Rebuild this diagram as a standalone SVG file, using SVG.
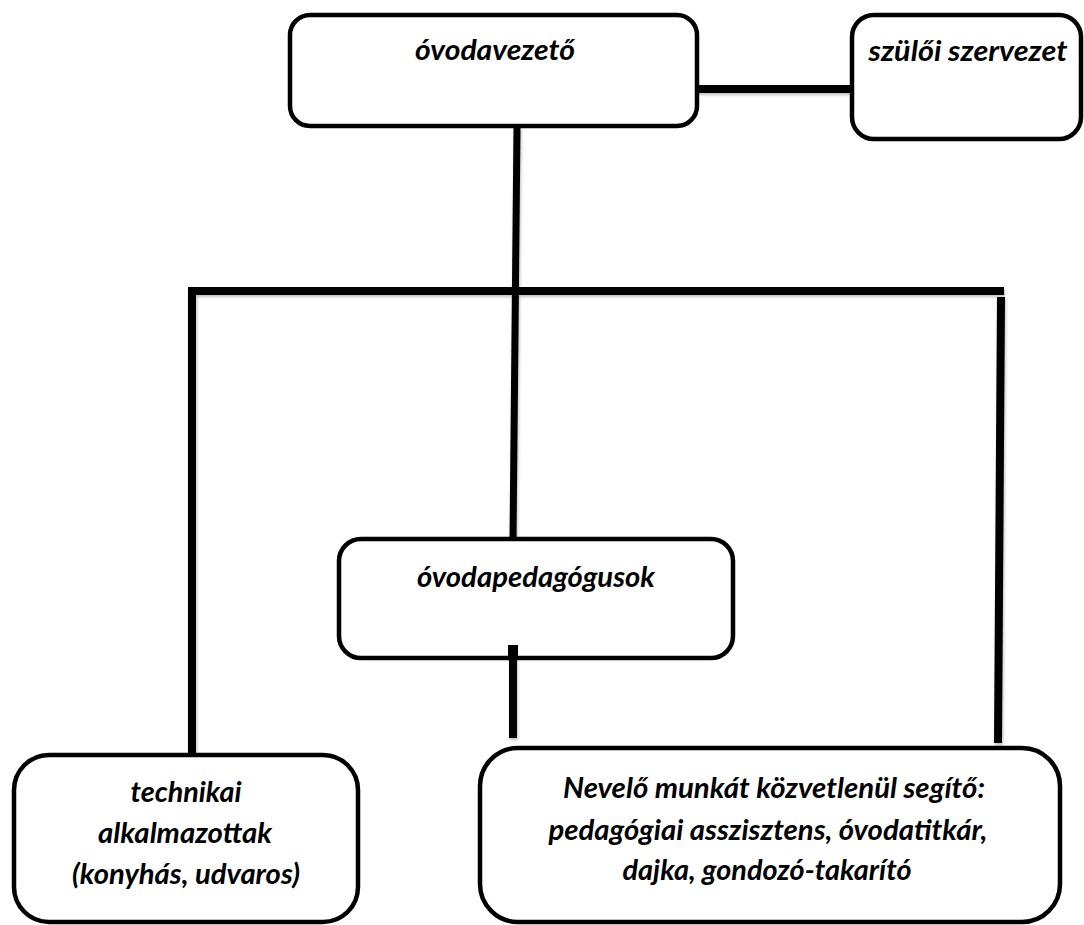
<svg xmlns="http://www.w3.org/2000/svg" width="1084" height="925" viewBox="0 0 1084 925">
<defs>
<filter id="sh" x="-20%" y="-20%" width="140%" height="140%">
<feDropShadow dx="1" dy="2" stdDeviation="1.5" flood-color="#000" flood-opacity="0.25"/>
</filter>
</defs>
<style>
.box{fill:#fff;stroke:#000;stroke-width:4.5}
.ln{stroke:#000;stroke-width:8;fill:none;stroke-linecap:butt}
.t{font-family:Lato,"Open Sans","Liberation Sans",sans-serif;font-weight:bold;font-style:italic;font-size:28px;fill:#000;text-anchor:middle}
</style>
<rect width="1084" height="925" fill="#fff"/>
<g id="connectors" filter="url(#sh)">
<line class="ln" x1="697" y1="89" x2="858" y2="89"/>
<line class="ln" x1="517" y1="127" x2="513" y2="540" style="stroke-width:7"/>
<line class="ln" x1="188" y1="291" x2="1004" y2="291"/>
<line class="ln" x1="192" y1="287" x2="192" y2="755"/>
<line class="ln" x1="1001" y1="297" x2="998" y2="743"/>
<line class="ln" x1="513" y1="648" x2="513" y2="738"/>
</g>
<g id="ovodavezeto">
<rect class="box" x="290" y="15" width="407" height="111" rx="20"/>
<text class="t" x="495" y="60" textLength="160" lengthAdjust="spacingAndGlyphs">óvodavezető</text>
</g>
<g id="szuloi-szervezet">
<rect class="box" x="852" y="15" width="229" height="124" rx="22"/>
<text class="t" x="968" y="61" textLength="199" lengthAdjust="spacingAndGlyphs">szülői szervezet</text>
</g>
<g id="ovodapedagogusok">
<rect class="box" x="339" y="539" width="394" height="119" rx="22"/>
<rect x="508" y="645" width="10" height="11" fill="#000"/>
<text class="t" x="536" y="587" textLength="238" lengthAdjust="spacingAndGlyphs">óvodapedagógusok</text>
</g>
<g id="technikai">
<rect class="box" x="14" y="755" width="344" height="167" rx="35"/>
<text class="t" x="186" y="802" textLength="111" lengthAdjust="spacingAndGlyphs">technikai</text>
<text class="t" x="185" y="843" textLength="174" lengthAdjust="spacingAndGlyphs">alkalmazottak</text>
<text class="t" x="186" y="884" textLength="228" lengthAdjust="spacingAndGlyphs">(konyhás, udvaros)</text>
</g>
<g id="nevelo">
<rect class="box" x="480" y="748" width="580" height="174" rx="38"/>
<text class="t" x="774" y="798" textLength="422" lengthAdjust="spacingAndGlyphs">Nevelő munkát közvetlenül segítő:</text>
<text class="t" x="768" y="840" textLength="439" lengthAdjust="spacingAndGlyphs">pedagógiai asszisztens, óvodatitkár,</text>
<text class="t" x="767" y="880" textLength="289" lengthAdjust="spacingAndGlyphs">dajka, gondozó-takarító</text>
</g>
</svg>
